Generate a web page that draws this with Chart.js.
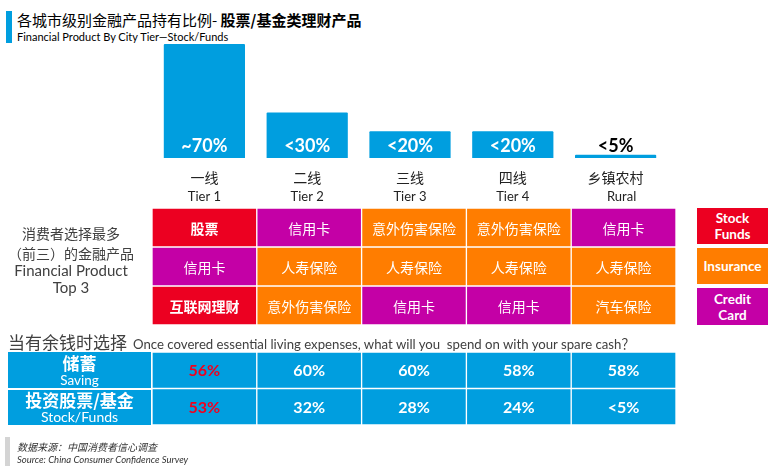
<!DOCTYPE html>
<html>
<head>
<meta charset="utf-8">
<script src="https://cdn.jsdelivr.net/npm/chart.js@4.4.0/dist/chart.umd.min.js"></script>
<style>
  body { margin: 0; width: 768px; height: 467px; position: relative; overflow: hidden; background: #fff;
         font-family: Lato, "Noto Sans CJK SC", sans-serif; color: #404040; }
  .abs { position: absolute; white-space: nowrap; }
  .cjk { font-family: "Noto Sans CJK SC", sans-serif; }
  .box { position: absolute; box-sizing: border-box; display: flex; flex-direction: column;
         align-items: center; justify-content: center; color: #fff; }
</style>
</head>
<body>

<!-- titulo -->
<div class="abs" style="left:6px;top:11px;width:6px;height:32px;background:#009EDF"></div>
<div class="abs cjk" style="left:17px;top:9px;font-size:15px;color:#000">各城市级别金融产品持有比例- <b>股票/基金类理财产品</b></div>
<div class="abs" style="left:17px;top:30px;font-size:11px;color:#000">Financial Product By City Tier—Stock/Funds</div>

<!-- graficos -->
<div class="abs" style="left:0;top:0"><canvas id="graficoBarras" width="768" height="212"></canvas></div>
<div class="abs" style="left:0;top:206px"><canvas id="graficoTop3" width="768" height="122"></canvas></div>
<div class="abs" style="left:0;top:350px"><canvas id="graficoTabela" width="768" height="77"></canvas></div>

<!-- rotulo esquerdo -->
<div class="abs cjk" style="left:0;top:223px;width:142px;text-align:center;font-size:14px;line-height:20px">消费者选择最多</div>
<div class="abs cjk" style="left:0;top:243px;width:142px;text-align:center;font-size:14px;line-height:20px">（前三）的金融产品</div>
<div class="abs" style="left:0;top:261px;width:142px;text-align:center;font-size:15px;line-height:18px">Financial Product</div>
<div class="abs" style="left:0;top:278px;width:142px;text-align:center;font-size:15px;line-height:18px">Top 3</div>

<!-- legenda -->
<div class="box" style="left:697px;top:208px;width:71px;height:36px;background:#EC0021;font-size:13.5px;font-weight:bold;line-height:16px"><div>Stock</div><div>Funds</div></div>
<div class="box" style="left:697px;top:248px;width:71px;height:36px;background:#FF7D00;font-size:13.5px;font-weight:bold">Insurance</div>
<div class="box" style="left:697px;top:288px;width:71px;height:37px;background:#C400A6;font-size:13.5px;font-weight:bold;line-height:16px"><div>Credit</div><div>Card</div></div>

<!-- secao inferior -->
<div class="abs cjk" style="left:8px;top:329px;font-size:17px">当有余钱时选择</div>
<div class="abs" style="left:133px;top:334px;font-size:13.2px">Once covered essential living expenses, what will you&nbsp; spend on with your spare cash？</div>
<div class="box" style="left:8px;top:352px;width:143px;height:36px;background:#009EDF;justify-content:flex-start">
  <div class="cjk" style="font-size:17px;font-weight:bold;line-height:20px;margin-top:1px">储蓄</div>
  <div style="font-size:13.5px;line-height:14px">Saving</div>
</div>
<div class="box" style="left:8px;top:390px;width:143px;height:35px;background:#009EDF;justify-content:flex-start">
  <div class="cjk" style="font-size:17px;font-weight:bold;line-height:20px">投资股票/基金</div>
  <div style="font-size:14px;line-height:14px">Stock/Funds</div>
</div>

<!-- fonte -->
<div class="abs" style="left:5px;top:437px;width:5px;height:29px;background:#d4d4d4"></div>
<div class="abs cjk" style="left:17px;top:439px;font-size:10px;font-style:italic;color:#333">数据来源：中国消费者信心调查</div>
<div class="abs" style="left:17px;top:454px;font-size:9.5px;font-style:italic;color:#333">Source: China Consumer Confidence Survey</div>

<script>
const tiersCn = ["一线", "二线", "三线", "四线", "乡镇农村"];
const tiersEn = ["Tier 1", "Tier 2", "Tier 3", "Tier 4", "Rural"];

// altura das barras (nao proporcional aos rotulos)
const stockShare = [70, 28, 16.5, 16.5, 2];
const stockShareLabels = ["~70%", "<30%", "<20%", "<20%", "<5%"];

// top 3 produtos por nivel de cidade
const top1 = ["股票", "信用卡", "意外伤害保险", "意外伤害保险", "信用卡"];
const top2 = ["信用卡", "人寿保险", "人寿保险", "人寿保险", "人寿保险"];
const top3 = ["互联网理财", "意外伤害保险", "信用卡", "信用卡", "汽车保险"];

const productType = {
  "股票": "stock", "互联网理财": "stock",
  "信用卡": "credit",
  "意外伤害保险": "insurance", "人寿保险": "insurance", "汽车保险": "insurance",
};
const typeColors = { stock: "#EC0021", insurance: "#FF7D00", credit: "#C400A6" };

// uso do dinheiro extra
const savingLabels = ["56%", "60%", "60%", "58%", "58%"];
const stockFundLabels = ["53%", "32%", "28%", "24%", "<5%"];

const AZUL = "#009EDF";

// escreve texto no centro de cada celula (barra flutuante)
const textoCelulas = {
  id: "textoCelulas",
  afterDatasetsDraw(chart) {
    const ctx = chart.ctx;
    chart.data.datasets.forEach((ds, i) => {
      if (!ds.texts) return;
      chart.getDatasetMeta(i).data.forEach((bar, j) => {
        ctx.save();
        ctx.fillStyle = typeof ds.textColor === "function" ? ds.textColor(j) : ds.textColor;
        ctx.font = typeof ds.textFont === "function" ? ds.textFont(j) : ds.textFont;
        ctx.textAlign = "center";
        ctx.textBaseline = "middle";
        ctx.fillText(ds.texts[j], bar.x, (bar.y + bar.base) / 2 + 1);
        ctx.restore();
      });
    });
  },
};

// rotulos das barras e dos niveis
const rotulosBarras = {
  id: "rotulosBarras",
  afterDatasetsDraw(chart) {
    const ctx = chart.ctx;
    const base = chart.chartArea.bottom;
    chart.getDatasetMeta(0).data.forEach((bar, j) => {
      ctx.save();
      ctx.textAlign = "center";
      ctx.textBaseline = "middle";
      ctx.fillStyle = j === 4 ? "#000" : "#fff";
      ctx.font = "bold 18px Lato";
      ctx.fillText(stockShareLabels[j], bar.x, base - 12);
      ctx.fillStyle = "#222";
      ctx.font = "14px 'Noto Sans CJK SC'";
      ctx.fillText(tiersCn[j], bar.x, base + 20);
      ctx.font = "13px Lato";
      ctx.fillText(tiersEn[j], bar.x + (j === 4 ? 6 : 0), base + 39);
      ctx.restore();
    });
  },
};

new Chart(document.getElementById("graficoBarras"), {
  type: "bar",
  data: {
    labels: tiersEn,
    datasets: [{
      data: stockShare,
      backgroundColor: AZUL,
      barPercentage: 0.79,
      categoryPercentage: 1,
      borderRadius: 1,
    }],
  },
  plugins: [rotulosBarras],
  options: {
    responsive: false,
    animation: false,
    events: [],
    layout: { padding: { left: 153, right: 101, top: 44, bottom: 54 } },
    plugins: { legend: { display: false }, tooltip: { enabled: false } },
    scales: {
      x: { display: false },
      y: { display: false, min: 0, max: 70 },
    },
  },
});

function linhaGrade(produtos, r) {
  return {
    data: produtos.map(() => [r, r + 1]),
    texts: produtos,
    backgroundColor: produtos.map((p) => typeColors[productType[p]]),
    borderColor: "#fff",
    borderWidth: 1,
    borderSkipped: false,
    grouped: false,
    barPercentage: 1,
    categoryPercentage: 1,
    textColor: "#fff",
    textFont: (j) => (productType[produtos[j]] === "stock" ? "bold " : "") + "14px 'Noto Sans CJK SC'",
  };
}

new Chart(document.getElementById("graficoTop3"), {
  type: "bar",
  data: {
    labels: tiersEn,
    datasets: [linhaGrade(top1, 0), linhaGrade(top2, 1), linhaGrade(top3, 2)],
  },
  plugins: [textoCelulas],
  options: {
    responsive: false,
    animation: false,
    events: [],
    layout: { padding: { left: 152, right: 92, top: 2, bottom: 3 } },
    plugins: { legend: { display: false }, tooltip: { enabled: false } },
    scales: {
      x: { display: false },
      y: { display: false, min: 0, max: 3, reverse: true },
    },
  },
});

function linhaTabela(textos, r) {
  return {
    data: textos.map(() => [r, r + 1]),
    texts: textos,
    backgroundColor: AZUL,
    borderColor: "#fff",
    borderWidth: 1,
    borderSkipped: false,
    grouped: false,
    barPercentage: 1,
    categoryPercentage: 1,
    textColor: (j) => (j === 0 ? "#F0001E" : "#fff"),
    textFont: "bold 16px Lato",
  };
}

new Chart(document.getElementById("graficoTabela"), {
  type: "bar",
  data: {
    labels: tiersEn,
    datasets: [linhaTabela(savingLabels, 0), linhaTabela(stockFundLabels, 1)],
  },
  plugins: [textoCelulas],
  options: {
    responsive: false,
    animation: false,
    events: [],
    layout: { padding: { left: 152, right: 92, top: 2, bottom: 2 } },
    plugins: { legend: { display: false }, tooltip: { enabled: false } },
    scales: {
      x: { display: false },
      y: { display: false, min: 0, max: 2, reverse: true },
    },
  },
});
</script>
</body>
</html>
